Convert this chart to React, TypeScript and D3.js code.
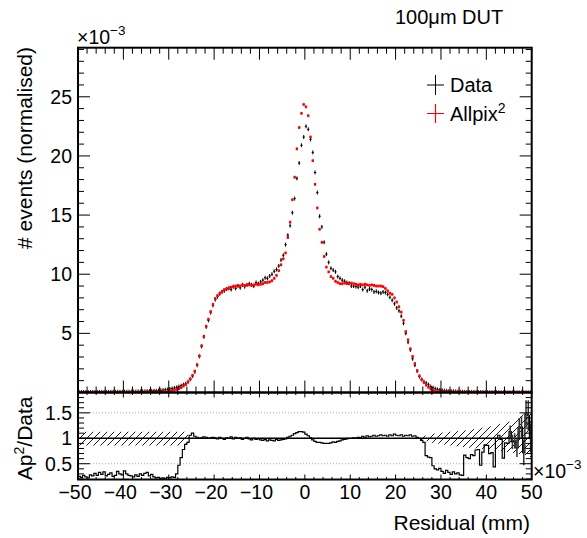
import React from "react";
import * as d3 from "d3";

const W = 587;
const H = 538;
const FONT = "'Liberation Sans', Arial, Helvetica, sans-serif";

// binning (units of 10^-3 mm)
const X_MIN = -50;
const X_MAX = 50;
const BIN_W = 0.5;

const xMajorTicks = [-50, -40, -30, -20, -10, 0, 10, 20, 30, 40, 50];
const yMainTicks = [5, 10, 15, 20, 25];
const yRatioTicks = [0.5, 1, 1.5];

// Allpix^2 (normalised, x10^-3), 200 bins
const allpixVals = [
  0.01, 0.01, 0.01, 0.01, 0.01, 0.01, 0.01, 0.01, 0.01, 0.01,
  0.01, 0.01, 0.01, 0.01, 0.01, 0.01, 0.02, 0.02, 0.02, 0.02,
  0.02, 0.02, 0.02, 0.02, 0.02, 0.02, 0.02, 0.03, 0.03, 0.03,
  0.03, 0.03, 0.03, 0.03, 0.04, 0.04, 0.04, 0.05, 0.06, 0.08,
  0.11, 0.15, 0.2, 0.26, 0.33, 0.42, 0.54, 0.67, 0.88, 1.15,
  1.45, 1.8, 2.35, 3.1, 3.95, 4.75, 5.6, 6.2, 6.85, 7.45,
  7.95, 8.2, 8.4, 8.55, 8.7, 8.75, 8.85, 8.9, 8.95, 9.0,
  9.05, 9.0, 9.1, 9.05, 9.1, 9.1, 9.05, 9.1, 9.15, 9.1,
  9.15, 9.2, 9.3, 9.3, 9.35, 9.45, 9.65, 9.9, 10.3, 10.8,
  11.3, 11.8, 13.1, 14.4, 16.3, 18.2, 20.6, 22.4, 23.6, 24.35,
  24.15, 23.4, 21.6, 19.6, 17.6, 15.6, 13.8, 12.7, 11.5, 10.6,
  10.2, 9.8, 9.65, 9.4, 9.3, 9.2, 9.2, 9.25, 9.2, 9.2,
  9.25, 9.2, 9.15, 9.1, 9.15, 9.1, 9.15, 9.1, 9.05, 9.1,
  9.05, 9.0, 9.0, 9.0, 8.95, 8.8, 8.6, 8.4, 8.3, 8.0,
  7.65, 7.25, 6.8, 6.1, 5.15, 4.45, 3.7, 3.05, 2.45, 1.85,
  1.4, 1.1, 0.85, 0.62, 0.44, 0.28, 0.18, 0.12, 0.09, 0.07,
  0.06, 0.05, 0.05, 0.04, 0.04, 0.04, 0.03, 0.03, 0.03, 0.03,
  0.03, 0.03, 0.02, 0.02, 0.02, 0.02, 0.02, 0.02, 0.02, 0.02,
  0.02, 0.02, 0.01, 0.01, 0.01, 0.01, 0.01, 0.01, 0.01, 0.01,
  0.01, 0.01, 0.01, 0.01, 0.01, 0.01, 0.01, 0.01, 0.01, 0.01,
];

// Data (normalised, x10^-3), 200 bins
const dataVals = [
  0.04, 0.04, 0.04, 0.04, 0.04, 0.04, 0.05, 0.04, 0.05, 0.05,
  0.05, 0.05, 0.05, 0.05, 0.06, 0.06, 0.06, 0.06, 0.06, 0.06,
  0.07, 0.07, 0.07, 0.08, 0.08, 0.08, 0.09, 0.09, 0.1, 0.1,
  0.11, 0.12, 0.13, 0.14, 0.15, 0.17, 0.18, 0.2, 0.23, 0.26,
  0.3, 0.34, 0.38, 0.43, 0.5, 0.58, 0.66, 0.75, 0.92, 1.12,
  1.4, 1.75, 2.3, 3.05, 3.9, 4.7, 5.55, 6.1, 6.75, 7.35,
  7.85, 8.1, 8.35, 8.5, 8.6, 8.75, 8.8, 8.7, 8.95, 8.8,
  9.0, 8.85, 9.1, 8.95, 9.1, 9.2, 9.1, 9.0, 9.3, 9.2,
  9.35, 9.5, 9.7, 9.65, 9.85, 10.0, 10.25, 10.4, 10.7, 11.2,
  11.6, 12.5, 13.3, 14.1, 15.2, 16.4, 18.1, 19.4, 20.9, 21.6,
  22.5, 22.25, 21.4, 20.3, 18.6, 16.9, 14.9, 14.0, 12.7, 11.7,
  11.0, 10.5, 10.35, 10.2, 9.8, 9.65, 9.5, 9.4, 9.3, 9.25,
  9.0, 9.0, 8.95, 8.9, 9.0, 8.7, 8.9, 8.6, 8.75, 8.7,
  8.5, 8.55, 8.45, 8.4, 8.5, 8.45, 8.3, 8.05, 7.8, 7.5,
  7.15, 6.9, 6.45, 5.85, 5.0, 4.25, 3.6, 2.85, 2.3, 1.8,
  1.35, 1.1, 0.92, 0.8, 0.66, 0.5, 0.4, 0.32, 0.26, 0.22,
  0.19, 0.16, 0.14, 0.12, 0.11, 0.1, 0.09, 0.08, 0.07, 0.06,
  0.05, 0.05, 0.04, 0.04, 0.04, 0.03, 0.03, 0.03, 0.03, 0.02,
  0.02, 0.02, 0.02, 0.02, 0.02, 0.02, 0.01, 0.01, 0.01, 0.01,
  0.01, 0.01, 0.01, 0.01, 0.01, 0.01, 0.01, 0.01, 0.01, 0.01,
];

// Ap^2 / Data ratio, 200 bins
const ratioVals = [
  0.25, 0.23, 0.27, 0.24, 0.22, 0.28, 0.26, 0.31, 0.27, 0.33,
  0.29, 0.34, 0.26, 0.29, 0.32, 0.25, 0.27, 0.35, 0.3, 0.28,
  0.36, 0.3, 0.27, 0.26, 0.24, 0.28, 0.25, 0.3, 0.27, 0.31,
  0.33, 0.26, 0.29, 0.24, 0.22, 0.23, 0.21, 0.22, 0.21, 0.23,
  0.22, 0.24, 0.23, 0.3, 0.47, 0.62, 0.78, 0.88, 0.92, 1.06,
  1.1, 1.04, 1.02, 1.0, 1.01, 1.03, 1.02, 1.0, 1.01, 1.02,
  1.01, 0.99, 1.02, 1.0, 0.98, 1.01, 1.0, 1.03, 0.99, 1.02,
  1.0, 1.01, 0.98, 1.0, 1.02, 0.99, 0.97, 1.0, 0.98, 0.99,
  0.97, 0.96, 0.98, 0.95, 0.97, 0.96, 0.95, 0.98, 0.96, 0.97,
  0.98, 0.99, 1.02, 1.04, 1.06, 1.09, 1.11, 1.13, 1.13, 1.12,
  1.08, 1.05, 1.01, 0.97, 0.94, 0.92, 0.92, 0.91, 0.9, 0.9,
  0.9, 0.91, 0.93, 0.92, 0.94, 0.95, 0.97, 0.98, 0.99, 1.0,
  1.0, 1.01, 1.0, 1.02, 1.01, 1.04, 1.02, 1.05, 1.03, 1.04,
  1.06, 1.04, 1.05, 1.07, 1.05, 1.06, 1.04, 1.07, 1.05, 1.08,
  1.06, 1.05, 1.07, 1.04, 1.06, 1.05, 1.07, 1.04, 1.05, 1.02,
  1.0, 0.96, 0.92, 0.66, 0.63, 0.62, 0.46, 0.4, 0.38, 0.41,
  0.35, 0.31, 0.37, 0.33, 0.29, 0.34, 0.3, 0.32, 0.28, 0.27,
  0.67, 0.62, 0.6, 0.68, 0.66, 0.77, 0.78, 0.47, 0.73, 0.87,
  0.86, 0.7, 0.72, 0.44, 1.0, 1.06, 0.98, 0.61, 0.91, 0.9,
  1.13, 0.93, 0.95, 0.81, 1.2, 1.22, 0.72, 1.48, 1.45, 1.0,
];

// ratio error bars for the last 10 bins (45..50)
const ratioErrTail = [0.12, 0.14, 0.15, 0.18, 0.2, 0.22, 0.25, 0.27, 0.3, 0.28];

// hatched uncertainty band (knots)
const bandX = [-50, -25.8, -25.7, 24, 26, 28, 32, 35.6, 38, 40.7, 43, 45.2, 48, 50];
const bandHi = [1.13, 1.13, 1.01, 1.01, 1.04, 1.09, 1.13, 1.16, 1.19, 1.23, 1.28, 1.33, 1.46, 1.55];
const bandLo = [0.86, 0.86, 0.99, 0.99, 0.96, 0.91, 0.86, 0.82, 0.8, 0.78, 0.75, 0.72, 0.68, 0.62];

// layout
const L = 78;
const R = 531.7;
const T = 47.7;
const MB = 392.5;
const RB = 479.5;

export default function App() {
  const x = d3.scaleLinear().domain([X_MIN, X_MAX]).range([L, R]);
  const y = d3.scaleLinear().domain([0, 29.15]).range([MB, T]);
  const yr = d3.scaleLinear().domain([0.19, 1.9]).range([RB, MB]);

  const nb = dataVals.length;
  const edge = (i: number) => X_MIN + i * BIN_W;

  const xMinor = d3.range(X_MIN, X_MAX + 0.001, 2);
  const yMinor = d3.range(1, 29.1, 1);
  const yrMinor = d3.range(0.2, 1.901, 0.1);

  // ratio histogram step path
  const stepPts: [number, number][] = [];
  ratioVals.forEach((r, i) => {
    stepPts.push([x(edge(i)), yr(r)]);
    stepPts.push([x(edge(i + 1)), yr(r)]);
  });
  const stepPath = d3.line()(stepPts) || "";

  const bandPath =
    d3
      .area<number>()
      .x((_, i) => x(bandX[i]))
      .y0((_, i) => yr(bandLo[i]))
      .y1((_, i) => yr(bandHi[i]))(bandX) || "";

  const tick = (x1: number, y1: number, x2: number, y2: number, k: string) => (
    <line key={k} x1={x1} y1={y1} x2={x2} y2={y2} stroke="#000" strokeWidth={1} />
  );

  const ticks: React.ReactNode[] = [];
  xMinor.forEach((v, i) => {
    const major = Math.abs(v % 10) < 1e-6;
    const len = major ? 12 : 6;
    ticks.push(tick(x(v), MB, x(v), MB - len, `mb${i}`));
    ticks.push(tick(x(v), T, x(v), T + len, `mt${i}`));
    const rl = major ? 5 : 2.5;
    ticks.push(tick(x(v), RB, x(v), RB - rl, `rb${i}`));
    ticks.push(tick(x(v), MB, x(v), MB + rl, `rt${i}`));
  });
  yMinor.forEach((v, i) => {
    const major = v % 5 === 0;
    const len = major ? 12 : 6;
    ticks.push(tick(L, y(v), L + len, y(v), `ml${i}`));
    ticks.push(tick(R, y(v), R - len, y(v), `mr${i}`));
  });
  yrMinor.forEach((v, i) => {
    const m = Math.round(v * 10) % 5 === 0;
    const len = m ? 12 : 6;
    ticks.push(tick(L, yr(v), L + len, yr(v), `rl${i}`));
    ticks.push(tick(R, yr(v), R - len, yr(v), `rr${i}`));
  });

  const fmt = (v: number) => (v < 0 ? "\u2212" + Math.abs(v) : String(v));

  return (
    <svg width={W} height={H} style={{ display: "block", position: "absolute", left: 0, top: 0 }}>
      <defs>
        <clipPath id="clipMain">
          <rect x={L} y={T} width={R - L} height={MB - T} />
        </clipPath>
        <clipPath id="clipRatio">
          <rect x={L} y={MB} width={R - L} height={RB - MB} />
        </clipPath>
        <pattern id="hatch" patternUnits="userSpaceOnUse" width={7} height={7}>
          <path d="M0,7 L7,0 M-1,1 L1,-1 M6,8 L8,6" stroke="#000" strokeWidth={0.9} />
        </pattern>
      </defs>
      <rect x={0} y={0} width={W} height={H} fill="#fff" />

      {/* main panel markers */}
      <g clipPath="url(#clipMain)">
        {dataVals.map((v, i) => {
          const cx = x(edge(i) + BIN_W / 2);
          const cy = y(v);
          return (
            <path
              key={`d${i}`}
              d={`M${x(edge(i))},${cy}H${x(edge(i + 1))}M${cx},${cy - 2}V${cy + 2}`}
              stroke="#000"
              strokeWidth={1}
              fill="none"
            />
          );
        })}
        {allpixVals.map((v, i) => {
          const cx = x(edge(i) + BIN_W / 2);
          const cy = y(v);
          return (
            <g key={`a${i}`}>
              <rect x={cx - 1.1} y={cy - 1.4} width={2.2} height={2.8} fill="#f00" />
              <path d={`M${x(edge(i))},${cy}H${x(edge(i + 1))}`} stroke="#f00" strokeWidth={1} />
            </g>
          );
        })}
      </g>

      {/* ratio panel */}
      <g clipPath="url(#clipRatio)">
        {[0.5, 1.5].map((v) => (
          <line key={`g${v}`} x1={L} x2={R} y1={yr(v)} y2={yr(v)} stroke="#aaa" strokeWidth={1} strokeDasharray="1,2" />
        ))}
        <path d={bandPath} fill="url(#hatch)" stroke="none" />
        <line x1={L} x2={R} y1={yr(1)} y2={yr(1)} stroke="#000" strokeWidth={1.5} />
        <path d={stepPath} fill="none" stroke="#000" strokeWidth={1.2} />
        {ratioErrTail.map((e, k) => {
          const i = nb - ratioErrTail.length + k;
          const cx = x(edge(i) + BIN_W / 2);
          const r = ratioVals[i];
          return <line key={`e${k}`} x1={cx} x2={cx} y1={yr(r - e)} y2={yr(r + e)} stroke="#333" strokeWidth={1.5} />;
        })}
      </g>

      {ticks}

      {/* frames */}
      <rect x={L} y={T} width={R - L} height={MB - T} fill="none" stroke="#000" strokeWidth={2} />
      <rect x={L} y={MB} width={R - L} height={RB - MB} fill="none" stroke="#000" strokeWidth={2} />

      <g fontFamily={FONT} fill="#000">
        {yMainTicks.map((v) => (
          <text key={`yl${v}`} x={72} y={y(v) + 7} fontSize={19.5} textAnchor="end">
            {v}
          </text>
        ))}
        {yRatioTicks.map((v) => (
          <text key={`yrl${v}`} x={72} y={yr(v) + 7} fontSize={19.5} textAnchor="end">
            {v}
          </text>
        ))}
        {xMajorTicks.map((v) => (
          <text key={`xl${v}`} x={x(v) + (v < 0 ? -3 : 0)} y={498.5} fontSize={19.5} textAnchor="middle">
            {fmt(v)}
          </text>
        ))}
        <text x={77} y={43.5} fontSize={19.5}>
          ×10<tspan dy={-9} fontSize={13.5}>{"\u22123"}</tspan>
        </text>
        <text x={533} y={478} fontSize={19.5}>
          ×10<tspan dy={-9} fontSize={13.5}>{"\u22123"}</tspan>
        </text>
        <text x={530} y={530} fontSize={21} textAnchor="end">
          Residual (mm)
        </text>
        <text transform="rotate(-90)" x={-47} y={32} fontSize={21} textAnchor="end">
          # events (normalised)
        </text>
        <text transform="rotate(-90)" x={-396.5} y={32} fontSize={21} textAnchor="end">
          Ap<tspan dy={-8} fontSize={14}>2</tspan>
          <tspan dy={8}>/Data</tspan>
        </text>
        <text x={395} y={24} fontSize={20}>
          100μm DUT
        </text>
        <path d="M427,85H444M435.5,75V95" stroke="#000" strokeWidth={1} />
        <text x={450} y={92} fontSize={20}>
          Data
        </text>
        <path d="M427,113.5H444M435.5,104V123" stroke="#f00" strokeWidth={1.2} />
        <text x={450} y={120.5} fontSize={20}>
          Allpix<tspan dy={-8} fontSize={14}>2</tspan>
        </text>
      </g>
    </svg>
  );
}
